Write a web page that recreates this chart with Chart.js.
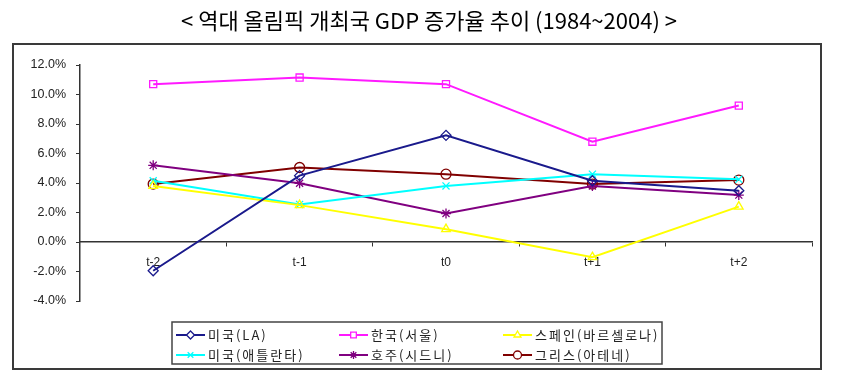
<!DOCTYPE html>
<html>
<head>
<meta charset="utf-8">
<script src="https://cdn.jsdelivr.net/npm/chart.js@4/dist/chart.umd.min.js"></script>
<style>
  html, body { margin: 0; padding: 0; background: #fff; }
  #wrap { position: relative; width: 857px; height: 379px; }
</style>
</head>
<body>
<div id="wrap"><canvas id="myChart"></canvas></div>
<script>
// 데이터
const periods = ["t-2", "t-1", "t0", "t+1", "t+2"];
const la = [-1.95, 4.5, 7.23, 4.15, 3.48];
const seoul = [10.7, 11.15, 10.7, 6.8, 9.25];
const barcelona = [3.8, 2.5, 0.87, -1.03, 2.4];
const atlanta = [4.15, 2.55, 3.8, 4.6, 4.25];
const sydney = [5.2, 3.98, 1.93, 3.8, 3.18];
const athens = [3.93, 5.05, 4.6, 3.93, 4.2];
const yTicks = [-4, -2, 0, 2, 4, 6, 8, 10, 12];

const titleText = "< 역대 올림픽 개최국 GDP 증가율 추이 (1984~2004) >";

function series(label, data, color, style) {
  return {
    label: label,
    data: data,
    borderColor: color,
    backgroundColor: "rgba(0,0,0,0)",
    borderWidth: 2,
    pointStyle: style,
    pointRadius: 5,
    pointHoverRadius: 5,
    pointBorderWidth: 1.3,
    pointBorderColor: color,
    pointBackgroundColor: "rgba(0,0,0,0)",
    tension: 0
  };
}

const data = {
  labels: periods,
  datasets: [
    series("미국(LA)", la, "#1a1a8c", "rectRot"),
    series("한국(서울)", seoul, "#ff1aff", "rect"),
    series("스페인(바르셀로나)", barcelona, "#ffff00", "triangle"),
    series("미국(애틀란타)", atlanta, "#00ffff", "crossRot"),
    series("호주(시드니)", sydney, "#800080", "star"),
    series("그리스(아테네)", athens, "#800000", "circle")
  ]
};

// 프레임, 제목, 범례 그리기
const decor = {
  id: "decor",
  beforeDraw(chart) {
    const ctx = chart.ctx;
    ctx.save();
    ctx.fillStyle = "#fff";
    ctx.fillRect(0, 0, chart.width, chart.height);
    ctx.strokeStyle = "#3a3a3a";
    ctx.lineWidth = 2;
    ctx.strokeRect(13, 44, 808, 325);
    ctx.fillStyle = "#000";
    ctx.font = "22px 'Noto Sans CJK KR'";
    ctx.textAlign = "center";
    ctx.textBaseline = "middle";
    ctx.fillText(titleText, 429, 21);
    ctx.restore();
  },
  afterDraw(chart) {
    const ctx = chart.ctx;
    ctx.save();
    ctx.strokeStyle = "#444";
    ctx.lineWidth = 1.5;
    ctx.strokeRect(172, 322, 490, 42);
    const cols = [176, 339, 503];
    const rows = [335, 355];
    chart.data.datasets.forEach((ds, i) => {
      const x = cols[i % 3], y = rows[Math.floor(i / 3)];
      ctx.strokeStyle = ds.borderColor;
      ctx.lineWidth = 2;
      ctx.beginPath();
      ctx.moveTo(x, y);
      ctx.lineTo(x + 29, y);
      ctx.stroke();
      ctx.fillStyle = "#fff";
      ctx.lineWidth = 1.3;
      Chart.helpers.drawPoint(ctx, {
        pointStyle: ds.pointStyle, radius: 4, borderWidth: 1.3, rotation: 0
      }, x + 14.5, y);
      ctx.fillStyle = "#222";
      ctx.font = "13px 'Noto Sans CJK KR'";
      ctx.letterSpacing = "2px";
      ctx.textAlign = "left";
      ctx.textBaseline = "middle";
      ctx.fillText(ds.label, x + 32, y);
      ctx.letterSpacing = "0px";
    });
    ctx.restore();
  }
};

new Chart(document.getElementById("myChart"), {
  type: "line",
  data: data,
  plugins: [decor],
  options: {
    responsive: true,
    maintainAspectRatio: false,
    animation: false,
    layout: { padding: { left: 0, right: 45, top: 65, bottom: 78 } },
    plugins: {
      legend: { display: false },
      title: { display: false },
      tooltip: { enabled: false }
    },
    scales: {
      x: {
        type: "category",
        offset: true,
        position: { y: 0 },
        grid: { display: true, offset: true, drawOnChartArea: false, tickLength: 4, color: "#333" },
        border: { display: true, color: "#333", width: 1.5 },
        ticks: {
          padding: 9,
          color: "#222",
          font: { family: "'Liberation Sans', Arial", size: 12 }
        }
      },
      y: {
        min: -4,
        max: 12,
        afterFit(scale) { scale.width = 80; },
        afterBuildTicks(scale) { scale.ticks = yTicks.map(v => ({ value: v })); },
        grid: { display: true, drawOnChartArea: false, tickLength: 4, color: "#333" },
        border: { display: true, color: "#333", width: 1.5 },
        ticks: {
          padding: 10,
          color: "#222",
          font: { family: "'Liberation Sans', Arial", size: 12.5 },
          callback: v => v.toFixed(1) + "%"
        }
      }
    }
  }
});
</script>
</body>
</html>
